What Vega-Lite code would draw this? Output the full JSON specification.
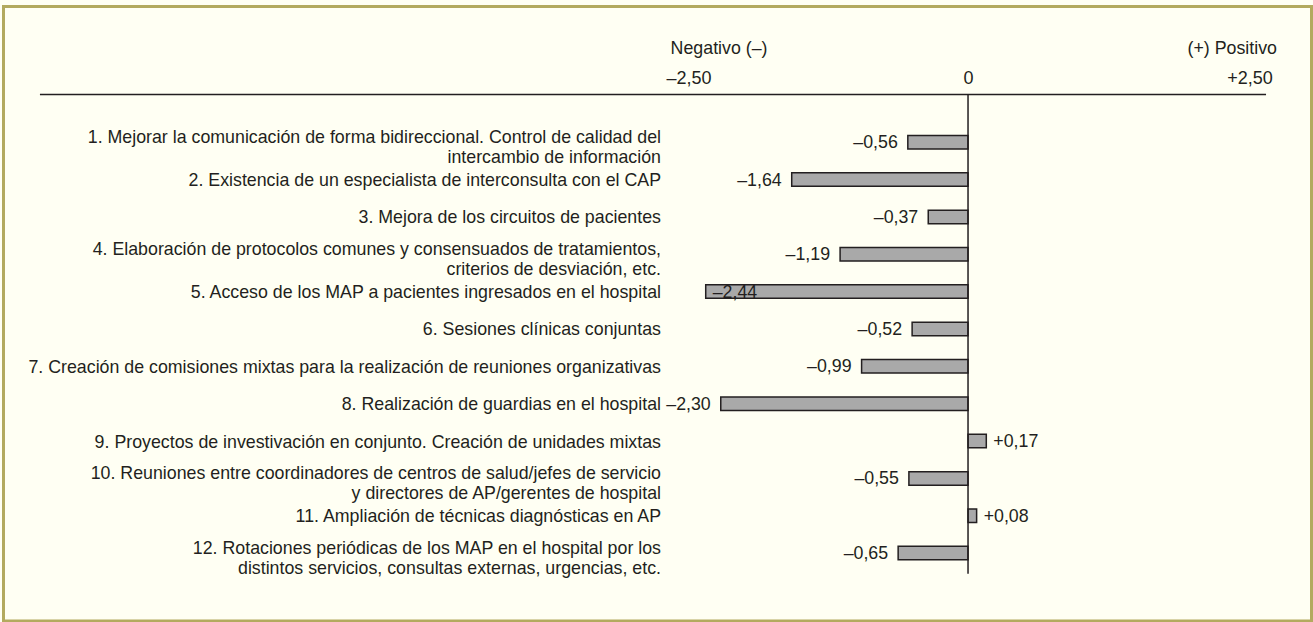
{
  "$schema": "https://vega.github.io/schema/vega-lite/v6.json",
  "width": 1308,
  "height": 614.5,
  "autosize": {"type": "none"},
  "padding": {"left": 3.5, "top": 6.5, "right": 1.5, "bottom": 1},
  "background": "#fffff3",
  "config": {
    "view": {"stroke": "#b3aa5e", "strokeWidth": 3, "fill": "#fffff3"},
    "font": "Liberation Sans",
    "text": {"font": "Liberation Sans", "color": "#231f20"}
  },
  "data": {
    "values": [
      {"n": 1, "label": "1. Mejorar la comunicación de forma bidireccional. Control de calidad del\nintercambio de información", "v": -0.56, "lab": "–0,56"},
      {"n": 2, "label": "2. Existencia de un especialista de interconsulta con el CAP", "v": -1.64, "lab": "–1,64"},
      {"n": 3, "label": "3. Mejora de los circuitos de pacientes", "v": -0.37, "lab": "–0,37"},
      {"n": 4, "label": "4. Elaboración de protocolos comunes y consensuados de tratamientos,\ncriterios de desviación, etc.", "v": -1.19, "lab": "–1,19"},
      {"n": 5, "label": "5. Acceso de los MAP a pacientes ingresados en el hospital", "v": -2.44, "lab": "–2,44"},
      {"n": 6, "label": "6. Sesiones clínicas conjuntas", "v": -0.52, "lab": "–0,52"},
      {"n": 7, "label": "7. Creación de comisiones mixtas para la realización de reuniones organizativas", "v": -0.99, "lab": "–0,99"},
      {"n": 8, "label": "8. Realización de guardias en el hospital", "v": -2.30, "lab": "–2,30"},
      {"n": 9, "label": "9. Proyectos de investivación en conjunto. Creación de unidades mixtas", "v": 0.17, "lab": "+0,17"},
      {"n": 10, "label": "10. Reuniones entre coordinadores de centros de salud/jefes de servicio\ny directores de AP/gerentes de hospital", "v": -0.55, "lab": "–0,55"},
      {"n": 11, "label": "11. Ampliación de técnicas diagnósticas en AP", "v": 0.08, "lab": "+0,08"},
      {"n": 12, "label": "12. Rotaciones periódicas de los MAP en el hospital por los\ndistintos servicios, consultas externas, urgencias, etc.", "v": -0.65, "lab": "–0,65"}
    ]
  },
  "layer": [
    {
      "mark": {"type": "bar", "height": 13.5, "fill": "#a9a9a9", "stroke": "#231f20", "strokeWidth": 1.5},
      "encoding": {
        "x": {
          "field": "v", "type": "quantitative",
          "scale": {"domain": [-8.972, 3.195], "nice": false, "zero": false},
          "axis": {
            "orient": "top", "offset": -84.5, "values": [-2.5, 0, 2.5],
            "domain": false, "ticks": false, "tickSize": 0, "grid": false,
            "labelPadding": 8, "labelBaseline": "alphabetic",
            "labelFont": "Liberation Sans", "labelFontSize": 18, "labelColor": "#231f20",
            "labelExpr": "datum.value < 0 ? '–2,50' : datum.value > 0 ? '+2,50' : '0'",
            "labelOffset": {"condition": [{"test": "datum.value < 0", "value": -10.75}, {"test": "datum.value > 0", "value": 12.75}], "value": 0},
            "labelFlush": false, "labelOverlap": false, "title": null
          }
        },
        "x2": {"datum": 0},
        "y": {"field": "n", "type": "quantitative", "scale": {"domain": [-2.499, 13.684], "reverse": true, "nice": false, "zero": false}, "axis": null}
      }
    },
    {
      "data": {"values": [{}]},
      "mark": {"type": "rule", "color": "#231f20", "strokeWidth": 1.5},
      "encoding": {
        "x": {"datum": -8.633, "type": "quantitative", "title": null},
        "x2": {"datum": 2.772},
        "y": {"datum": -0.274, "type": "quantitative", "axis": null}
      }
    },
    {
      "data": {"values": [{}]},
      "mark": {"type": "rule", "color": "#231f20", "strokeWidth": 1.5},
      "encoding": {
        "x": {"datum": 0, "type": "quantitative", "title": null},
        "y": {"datum": -0.274, "type": "quantitative", "axis": null},
        "y2": {"datum": 12.552}
      }
    },
    {
      "transform": [{"filter": "indexof(datum.label, '\\n') < 0"}],
      "mark": {"type": "text", "align": "right", "baseline": "middle", "fontSize": 17.8, "dy": 1.5},
      "encoding": {
        "x": {"datum": -2.856, "type": "quantitative", "title": null},
        "y": {"field": "n", "type": "quantitative", "axis": null},
        "text": {"field": "label"}
      }
    },
    {
      "transform": [{"filter": "indexof(datum.label, '\\n') >= 0"}],
      "mark": {"type": "text", "align": "right", "baseline": "middle", "lineBreak": "\n", "lineHeight": 20.5, "fontSize": 17.8, "dy": -4.5},
      "encoding": {
        "x": {"datum": -2.856, "type": "quantitative", "title": null},
        "y": {"field": "n", "type": "quantitative", "axis": null},
        "text": {"field": "label"}
      }
    },
    {
      "transform": [{"filter": "datum.v < 0 && datum.v > -2.4"}],
      "mark": {"type": "text", "align": "right", "baseline": "middle", "fontSize": 17.8, "dx": -10, "dy": 1},
      "encoding": {
        "x": {"field": "v", "type": "quantitative", "title": null},
        "y": {"field": "n", "type": "quantitative", "axis": null},
        "text": {"field": "lab"}
      }
    },
    {
      "transform": [{"filter": "datum.v > 0 || datum.v <= -2.4"}],
      "mark": {"type": "text", "align": "left", "baseline": "middle", "fontSize": 17.8, "dx": 7, "dy": 1},
      "encoding": {
        "x": {"field": "v", "type": "quantitative", "title": null},
        "y": {"field": "n", "type": "quantitative", "axis": null},
        "text": {"field": "lab"}
      }
    },
    {
      "data": {"values": [{}]},
      "mark": {"type": "text", "align": "center", "baseline": "middle", "fontSize": 17.8},
      "encoding": {
        "x": {"datum": -2.316, "type": "quantitative", "title": null},
        "y": {"datum": -1.5, "type": "quantitative", "axis": null},
        "text": {"value": "Negativo (–)"}
      }
    },
    {
      "data": {"values": [{}]},
      "mark": {"type": "text", "align": "right", "baseline": "middle", "fontSize": 17.8},
      "encoding": {
        "x": {"datum": 2.874, "type": "quantitative", "title": null},
        "y": {"datum": -1.5, "type": "quantitative", "axis": null},
        "text": {"value": "(+) Positivo"}
      }
    }
  ]
}
